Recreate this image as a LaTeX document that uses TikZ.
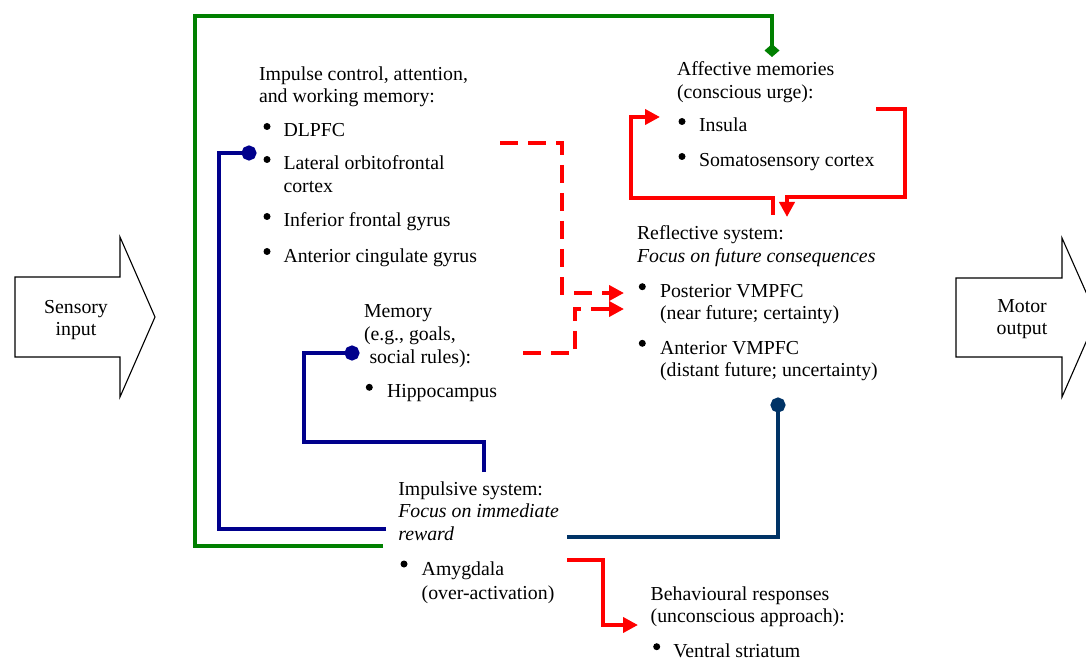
\documentclass[tikz,border=0pt]{standalone}
\usepackage{fontspec}
\setmainfont{Liberation Serif}
\usetikzlibrary{arrows.meta}
\definecolor{cgreen}{RGB}{0,128,0}
\definecolor{cnavy}{RGB}{0,0,140}
\definecolor{cdblue}{RGB}{0,51,102}
\definecolor{cred}{RGB}{255,0,0}
\begin{document}
\begin{tikzpicture}[x=1pt,y=-1pt,
  txt/.style={anchor=base west, inner sep=0pt, outer sep=0pt, font=\fontsize{19.8}{22.5}\selectfont},
  ctxt/.style={anchor=base, inner sep=0pt, outer sep=0pt, font=\fontsize{19.8}{22.5}\selectfont},
  bdot/.style={fill=black},
  conn/.style={line width=4pt, line join=miter},
  gline/.style={conn, draw=cgreen},
  nline/.style={conn, draw=cnavy},
  dline/.style={conn, draw=cdblue},
  rline/.style={conn, draw=cred, -{Triangle[length=15pt,width=15pt]}},
  rdash/.style={rline, dash pattern=on 18pt off 10pt},
  blockarrow/.style={draw=black, line width=1.1pt, fill=white}
]
\useasboundingbox (0,0) rectangle (1086,660);

% block arrows
\draw[blockarrow] (15,277) -- (120,277) -- (120,237) -- (155,317) -- (120,397) -- (120,357) -- (15,357) -- cycle;
\node[ctxt] (sens1) at (76,313) {Sensory};
\node[ctxt] (sens2) at (76,335) {input};
\draw[blockarrow] (956,278) -- (1062,278) -- (1062,238) -- (1097,317) -- (1062,397) -- (1062,357) -- (956,357) -- cycle;
\node[ctxt] (mot1) at (1022,312) {Motor};
\node[ctxt] (mot2) at (1022,334) {output};

% Impulse control block
\node[txt] (ic1) at (259,81) {Impulse control, attention,};
\node[txt] (ic2) at (259,103) {and working memory:};
\fill[bdot] (267,126.5) circle (3.5);
\node[txt] (ic3) at (283.5,137) {DLPFC};
\fill[bdot] (267,159.5) circle (3.5);
\node[txt] (ic4) at (283.5,170) {Lateral orbitofrontal};
\node[txt] (ic5) at (283.5,193) {cortex};
\fill[bdot] (267,216.5) circle (3.5);
\node[txt] (ic6) at (283.5,227) {Inferior frontal gyrus};
\fill[bdot] (267,251.5) circle (3.5);
\node[txt] (ic7) at (283.5,262) {Anterior cingulate gyrus};

% Memory block
\node[txt] (mem1) at (364,317.5) {Memory};
\node[txt] (mem2) at (364,340) {(e.g., goals,};
\node[txt] (mem3) at (369.5,363) {social rules):};
\fill[bdot] (369.3,387.3) circle (3.5);
\node[txt] (mem4) at (387,397.5) {Hippocampus};

% Affective memories
\node[txt] (af1) at (677,76) {Affective memories};
\node[txt] (af2) at (677,98.5) {(conscious urge):};
\fill[bdot] (682,121.5) circle (3.5);
\node[txt] (af3) at (699,132) {Insula};
\fill[bdot] (682,156.5) circle (3.5);
\node[txt] (af4) at (699,167) {Somatosensory cortex};

% Reflective system
\node[txt] (rf1) at (637,240) {Reflective system:};
\node[txt] (rf2) at (637,262) {\itshape Focus on future consequences};
\fill[bdot] (642.3,286.7) circle (3.5);
\node[txt] (rf3) at (660,297) {Posterior VMPFC};
\node[txt] (rf4) at (660,319.3) {(near future; certainty)};
\fill[bdot] (642.3,343.3) circle (3.5);
\node[txt] (rf5) at (660,354) {Anterior VMPFC};
\node[txt] (rf6) at (660,376.7) {(distant future; uncertainty)};

% Impulsive system
\node[txt] (im1) at (398.3,495) {Impulsive system:};
\node[txt] (im2) at (398.3,517.3) {\itshape Focus on immediate};
\node[txt] (im3) at (398.3,540) {\itshape reward};
\fill[bdot] (404,564) circle (3.5);
\node[txt] (im4) at (421.7,575) {Amygdala};
\node[txt] (im5) at (421.7,599) {(over-activation)};

% Behavioural responses
\node[txt] (bh1) at (650.7,600) {Behavioural responses};
\node[txt] (bh2) at (650.7,622.7) {(unconscious approach):};
\fill[bdot] (656.7,646.7) circle (3.5);
\node[txt] (bh3) at (673.3,657) {Ventral striatum};

% connector end points
\coordinate (gS) at (383,546);
\coordinate (gE) at (772,57);
\coordinate (n1S) at (386,529);
\coordinate (n1E) at (256.5,153);
\coordinate (n2S) at (484,472);
\coordinate (n2E) at (359.5,353);
\coordinate (dS) at (567,537);
\coordinate (dE) at (778,397.5);
\coordinate (rAS) at (567,560);
\coordinate (rAE) at (638,625);
\coordinate (rLS) at (773,215);
\coordinate (rLE) at (660,117);
\coordinate (rRS) at (876,109);
\coordinate (rRE) at (787,217);
\coordinate (dUS) at (500,143);
\coordinate (dUE) at (624,293);
\coordinate (dLS) at (523,353);
\coordinate (dLE) at (624,309);

% green: impulsive -> affective
\draw[gline, -{Diamond[length=13pt,width=15pt]}] (gS) -- (195,546) -- (195,16) -- (772,16) -- (gE);
% navy: impulsive -> impulse control
\draw[nline, -{Circle[length=15pt]}] (n1S) -- (219,529) -- (219,153) -- (n1E);
% navy: impulsive -> memory
\draw[nline, -{Circle[length=15pt]}] (n2S) -- (484,442) -- (304,442) -- (304,353) -- (n2E);
% dark blue: impulsive -> reflective
\draw[dline, -{Circle[length=15pt]}] (dS) -- (778,537) -- (dE);
% red solid
\draw[rline] (rAS) -- (603,560) -- (603,625) -- (rAE);
\draw[rline] (rLS) -- (773,198) -- (631,198) -- (631,117) -- (rLE);
\draw[rline] (rRS) -- (905,109) -- (905,197) -- (787,197) -- (rRE);
% red dashed
\draw[rdash] (dUS) -- (562,143) -- (562,293) -- (dUE);
\draw[rdash] (dLS) -- (575,353) -- (575,309) -- (dLE);
\end{tikzpicture}
\end{document}
